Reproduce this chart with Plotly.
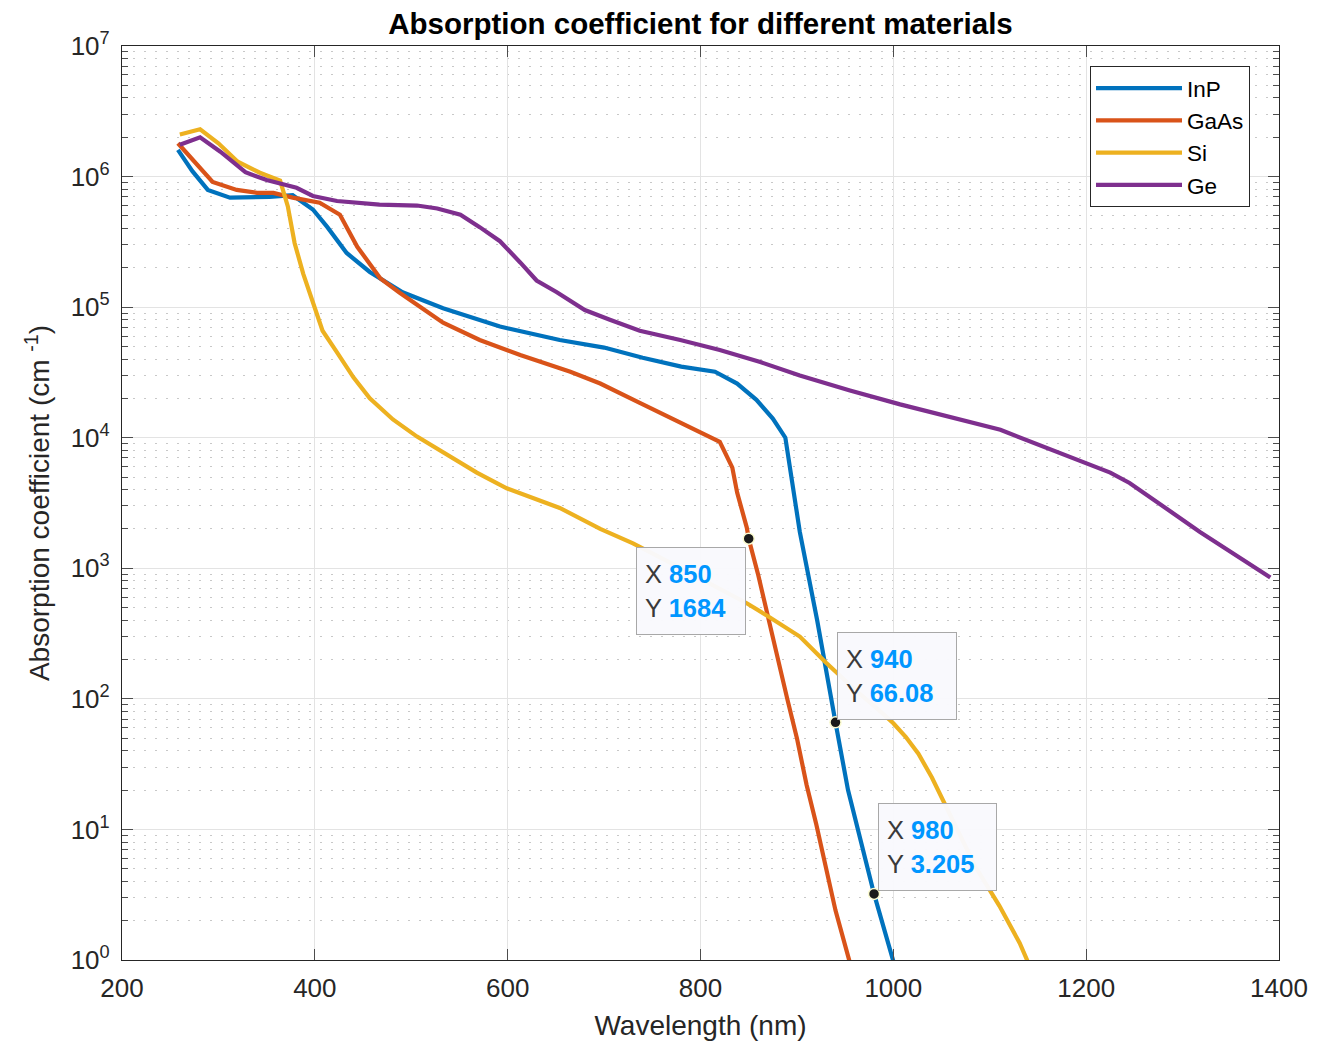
import plotly.graph_objects as go
import numpy as np

# ---------------- data ----------------
inp_x = [258, 273, 289, 312, 353, 377, 398, 413, 433, 457, 491, 533, 592, 654, 700, 740,
         780, 815, 838, 858, 875, 888, 903, 921, 940, 953, 980, 1000]
inp_y = [1.6e6, 1.1e6, 7.9e5, 6.9e5, 7.0e5, 7.2e5, 5.6e5, 4.1e5, 2.6e5, 1.86e5, 1.3e5,
         9.8e4, 7.1e4, 5.6e4, 4.9e4, 4.1e4, 3.5e4, 3.2e4, 2.6e4, 1.95e4, 1.4e4, 1.0e4, 1.9e3,
         4.0e2, 66.08, 20, 3.205, 0.98]

gaas_x = [258, 275, 294, 319, 340, 357, 377, 405, 426, 444, 468, 488, 502, 533, 571, 613,
          665, 696, 737, 779, 820, 833, 838, 848, 850, 860, 870, 880, 890, 900, 910, 920, 930,
          940, 955]
gaas_y = [1.8e6, 1.3e6, 9.1e5, 7.9e5, 7.5e5, 7.5e5, 6.9e5, 6.3e5, 5.1e5, 2.9e5, 1.66e5, 1.29e5,
          1.1e5, 7.6e4, 5.6e4, 4.3e4, 3.2e4, 2.6e4, 1.85e4, 1.3e4, 9.3e3, 5.9e3, 3.8e3,
          2.05e3, 1684, 880, 420, 210, 100, 50, 22, 11, 5.0, 2.4, 0.95]

si_x = [260, 281, 300, 320, 343, 364, 372, 379, 388, 397, 408, 423, 440, 457, 481, 506, 537,
        568, 599, 654, 696, 730, 780, 848, 872, 903, 930, 960, 985, 1000, 1013, 1026, 1040,
        1055, 1070, 1085, 1110, 1131, 1140]
si_y = [2.1e6, 2.3e6, 1.8e6, 1.3e6, 1.07e6, 9.3e5, 5.9e5, 3.1e5, 1.8e5, 1.12e5, 6.6e4, 4.5e4,
        2.9e4, 2.0e4, 1.38e4, 1.02e4, 7.4e3, 5.4e3, 4.1e3, 2.9e3, 2.0e3, 1.55e3, 1.0e3, 540,
        420, 300, 190, 118, 82, 65, 51, 38, 25, 15, 9.0, 5.2, 2.6, 1.35, 0.95]

ge_x = [260, 281, 302, 328, 350, 381, 398, 423, 467, 506, 527, 551, 571, 592, 613, 630, 651,
        680, 706, 737, 779, 820, 862, 903, 955, 1007, 1111, 1225, 1245, 1318, 1391]
ge_y = [1.75e6, 2.0e6, 1.55e6, 1.08e6, 9.4e5, 8.2e5, 7.1e5, 6.5e5, 6.1e5, 6.0e5, 5.7e5, 5.1e5,
        4.1e5, 3.2e5, 2.2e5, 1.6e5, 1.3e5, 9.5e4, 8.0e4, 6.6e4, 5.6e4, 4.7e4, 3.8e4, 3.0e4,
        2.3e4, 1.8e4, 1.15e4, 5.4e3, 4.5e3, 1.9e3, 850]

series_names = ["InP", "GaAs", "Si", "Ge"]
series_colors = ["#0072BD", "#D95319", "#EDB120", "#7E2F8E"]

tip_x = [850, 940, 980]
tip_y = [1684, 66.08, 3.205]
tip_labels_y = ["1684", "66.08", "3.205"]

x_ticks = [200, 400, 600, 800, 1000, 1200, 1400]
y_exponents = [0, 1, 2, 3, 4, 5, 6, 7]

# ---------------- figure ----------------
FONT = "Liberation Sans, Arial, Helvetica, sans-serif"
W, H = 1323, 1033          # page adds an 8px body margin
ML, MR, MT, MB = 114, 52, 38, 81
fig = go.Figure()

for name, xs, ys, col in zip(series_names, [inp_x, gaas_x, si_x, ge_x],
                             [inp_y, gaas_y, si_y, ge_y], series_colors):
    fig.add_trace(go.Scatter(x=xs, y=ys, name=name, mode="lines",
                             line=dict(color=col, width=4.2), cliponaxis=True))

fig.add_trace(go.Scatter(x=tip_x, y=tip_y, mode="markers", showlegend=False,
                         marker=dict(color="#1a1a1a", size=11,
                                     line=dict(color="#fbfbd0", width=1.5)),
                         cliponaxis=False))

# data tip boxes
tip_cfg = [
    dict(xanchor="right", yanchor="top", xshift=-3, yshift=-8, width=92),
    dict(xanchor="left", yanchor="bottom", xshift=2, yshift=2, width=102),
    dict(xanchor="left", yanchor="bottom", xshift=4, yshift=3, width=101),
]
for tx, ty, tl, cfg in zip(tip_x, tip_y, tip_labels_y, tip_cfg):
    txt = ("X <span style='color:#0096FF'><b>%s</b></span><br>"
           "Y <span style='color:#0096FF'><b>%s</b></span>") % (str(tx), tl)
    fig.add_annotation(x=tx, y=np.log10(ty), xref="x", yref="y", text=txt,
                       showarrow=False, align="left",
                       font=dict(family=FONT, size=25.5, color="#3a3a3a"),
                       bgcolor="rgba(249,249,253,0.97)", bordercolor="#a8a8a8",
                       borderwidth=1, borderpad=8, height=70, **cfg)

minor_vals = [m * 10 ** e for e in range(0, 7) for m in range(2, 10)]
plot_w = W - ML - MR
plot_h = H - MT - MB

fig.update_layout(
    width=W, height=H,
    margin=dict(l=ML, r=MR, t=MT, b=MB),
    paper_bgcolor="white", plot_bgcolor="white",
    font=dict(family=FONT, color="#262626"),
    title=dict(text="<b>Absorption coefficient for different materials</b>",
               x=(ML + plot_w / 2) / W, xanchor="center", y=1 - 16 / H, yanchor="middle",
               font=dict(family=FONT, size=29.5, color="#000000")),
    legend=dict(x=(1090 - 122) / plot_w, y=(960 - 66) / plot_h, xanchor="left", yanchor="top",
                bgcolor="white", bordercolor="#262626", borderwidth=1,
                font=dict(family=FONT, size=22.5, color="#000000"),
                tracegroupgap=0, itemwidth=86),
    showlegend=True,
)

fig.update_xaxes(
    range=[200, 1400], tickvals=x_ticks, ticktext=[str(v) for v in x_ticks],
    automargin=False,
    showline=True, linecolor="#262626", linewidth=1.2, mirror="allticks",
    ticks="inside", ticklen=11, tickcolor="#4d4d4d", tickwidth=1.2,
    showgrid=True, gridcolor="#e3e3e3", gridwidth=1, zeroline=False,
    tickfont=dict(family=FONT, size=26, color="#262626"),
    ticklabelstandoff=5,
    title=dict(text="Wavelength (nm)", font=dict(family=FONT, size=28, color="#262626"),
               standoff=14),
)

fig.update_yaxes(
    type="log", range=[0, 7],
    tickvals=[10 ** e for e in y_exponents],
    ticktext=["10<sup>%d</sup>" % e for e in y_exponents],
    automargin=False,
    showline=True, linecolor="#262626", linewidth=1.2, mirror="allticks",
    ticks="inside", ticklen=11, tickcolor="#4d4d4d", tickwidth=1.2,
    showgrid=True, gridcolor="#e3e3e3", gridwidth=1, zeroline=False,
    tickfont=dict(family=FONT, size=26, color="#262626"),
    ticklabelstandoff=6,
    minor=dict(tickvals=minor_vals, ticks="inside", ticklen=6, tickcolor="#4d4d4d",
               showgrid=True, gridcolor="#c8c8c8", griddash="2px,9px", gridwidth=1),
    title=dict(text="Absorption coefficient (cm <sup>-1</sup>)",
               font=dict(family=FONT, size=28, color="#262626"), standoff=12),
)

fig.write_html("out.html")
